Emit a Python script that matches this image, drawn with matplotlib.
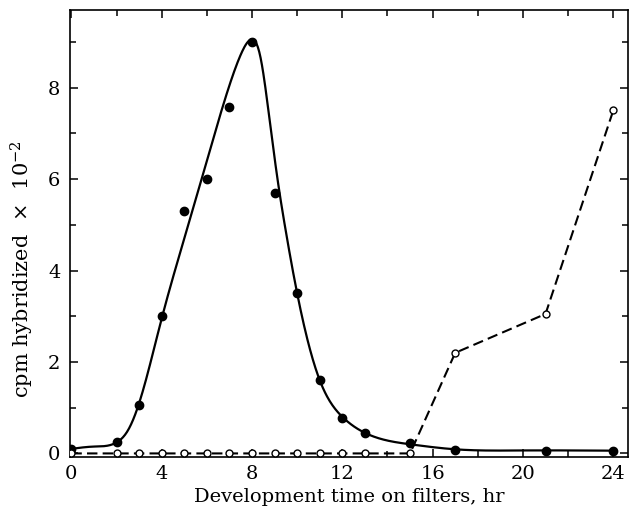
import numpy as np
import matplotlib
matplotlib.use('Agg')
import matplotlib.pyplot as plt
from matplotlib.ticker import MultipleLocator

# filled circles (solid curve)
hours_filled = [0, 2, 3, 4, 5, 6, 7, 8, 9, 10, 11, 12, 13, 15, 17, 21, 24]
cpm_filled = [0.1, 0.25, 1.05, 3.0, 5.3, 6.0, 7.57, 9.0, 5.7, 3.5, 1.6, 0.78, 0.45, 0.22, 0.08, 0.06, 0.06]

# open circles (dashed line)
hours_open = [0, 2, 3, 4, 5, 6, 7, 8, 9, 10, 11, 12, 13, 15, 17, 21, 24]
cpm_open = [0, 0, 0, 0, 0, 0, 0, 0, 0, 0, 0, 0, 0, 0, 2.2, 3.05, 7.5]

# hand drawn smooth curve through the filled points
fit_x = [0, 1, 2, 2.5, 3, 4, 5, 6, 7, 7.5, 7.9, 8.35, 8.7, 9.1, 9.5, 10, 11, 12, 13, 15, 17, 20, 24]
fit_y = [0.1, 0.15, 0.24, 0.5, 1.1, 2.95, 4.7, 6.4, 8.05, 8.72, 9.04, 8.72, 7.6, 6.1, 4.85, 3.5, 1.6, 0.8, 0.45, 0.2, 0.09, 0.065, 0.06]


def natural_spline(x, y, xs):
    # plain natural cubic spline, only used to draw the smooth line
    x = np.asarray(x, float)
    y = np.asarray(y, float)
    n = len(x)
    h = np.diff(x)
    A = np.zeros((n, n))
    b = np.zeros(n)
    A[0, 0] = A[-1, -1] = 1
    for i in range(1, n - 1):
        A[i, i - 1] = h[i - 1]
        A[i, i] = 2 * (h[i - 1] + h[i])
        A[i, i + 1] = h[i]
        b[i] = 6 * ((y[i + 1] - y[i]) / h[i] - (y[i] - y[i - 1]) / h[i - 1])
    M = np.linalg.solve(A, b)
    idx = np.clip(np.searchsorted(x, xs) - 1, 0, n - 2)
    x0, x1 = x[idx], x[idx + 1]
    hh = h[idx]
    return (M[idx] * (x1 - xs)**3 / (6 * hh) + M[idx + 1] * (xs - x0)**3 / (6 * hh)
            + (y[idx] / hh - M[idx] * hh / 6) * (x1 - xs)
            + (y[idx + 1] / hh - M[idx + 1] * hh / 6) * (xs - x0))


plt.rcParams['font.family'] = ['DejaVu Serif']
plt.rcParams['mathtext.fontset'] = 'dejavuserif'
plt.rcParams['font.size'] = 14

fig = plt.figure(figsize=(6.33, 5.2), dpi=100)
ax = fig.add_axes([0.111, 0.121, 0.881, 0.86])

xs = np.linspace(0, 24, 800)
ax.plot(xs, natural_spline(fit_x, fit_y, xs), color='black', lw=1.6, zorder=2)
ax.plot(hours_filled, cpm_filled, 'o', color='black', ms=6, zorder=3)
ax.plot(hours_open, cpm_open, '--', color='black', lw=1.5, dashes=(5, 2.5), zorder=2)
ax.plot(hours_open, cpm_open, 'o', mfc='white', mec='black', mew=1.0, ms=5, ls='none', zorder=4)

ax.set_xlim(-0.05, 24.65)
ax.set_ylim(-0.08, 9.7)
ax.xaxis.set_major_locator(MultipleLocator(4))
ax.xaxis.set_minor_locator(MultipleLocator(2))
ax.yaxis.set_major_locator(MultipleLocator(2))
ax.yaxis.set_minor_locator(MultipleLocator(1))
ax.tick_params(which='both', direction='in', top=True, right=True, width=1.1)
ax.tick_params(which='major', length=6)
ax.tick_params(which='minor', length=4)
ax.tick_params(axis='x', pad=6)
ax.tick_params(axis='y', pad=7)
for s in ax.spines.values():
    s.set_linewidth(1.2)

ax.set_xlabel('Development time on filters, hr', labelpad=3)
ax.set_ylabel(r'cpm hybridized $\,\times\,$ 10$^{-2}$', fontsize=15)
ax.yaxis.set_label_coords(-0.062, 0.42)

plt.savefig('out.png', dpi=100)
